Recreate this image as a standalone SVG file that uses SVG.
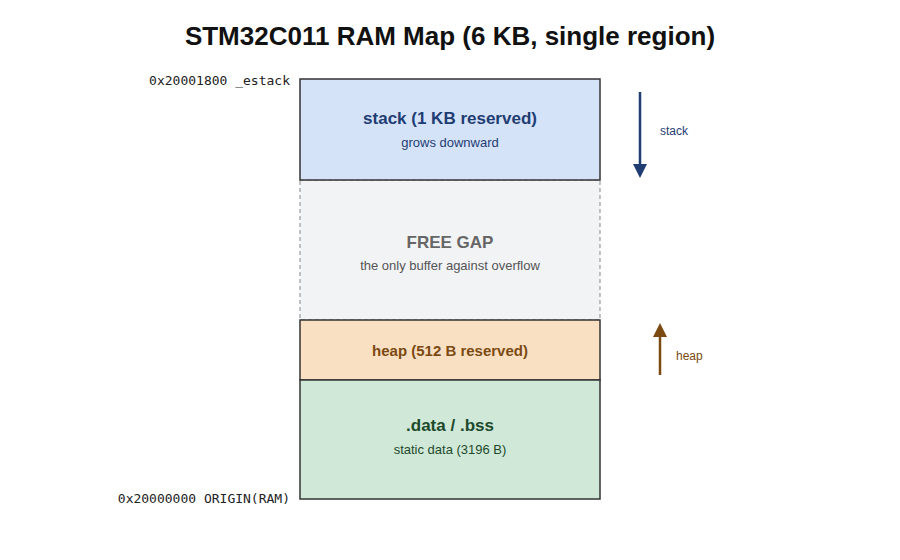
<svg xmlns="http://www.w3.org/2000/svg" width="900" height="560" viewBox="0 0 900 560">
<style>
text{font-family:"Liberation Sans",Arial,sans-serif;text-anchor:middle}
.t{font-size:17px;font-weight:bold}
.s{font-size:13px}
.a{font-family:"DejaVu Sans Mono","Liberation Mono",monospace;font-size:13px;text-anchor:end;fill:#222}
.l{font-size:12px;text-anchor:start}
</style>
<defs>
<marker id="mb" markerWidth="14" markerHeight="14" refX="2" refY="7" orient="auto" markerUnits="userSpaceOnUse" viewBox="0 0 14 14"><path d="M0,0L14,7L0,14z" fill="#1f3d73"/></marker>
<marker id="mh" markerWidth="14" markerHeight="14" refX="2" refY="7" orient="auto" markerUnits="userSpaceOnUse" viewBox="0 0 14 14"><path d="M0,0L14,7L0,14z" fill="#7a4a12"/></marker>
</defs>
<rect width="900" height="560" fill="#fff"/>
<text x="450" y="45" style="font-size:26px;font-weight:bold;fill:#111">STM32C011 RAM Map (6 KB, single region)</text>
<g id="free">
<rect x="300" y="180" width="300" height="140" fill="#f2f3f5" stroke="#888" stroke-dasharray="4,3"/>
<text class="t" x="450" y="248" fill="#666">FREE GAP</text>
<text class="s" x="450" y="270" fill="#555">the only buffer against overflow</text>
</g>
<g id="stack">
<rect x="300" y="79" width="300" height="101" fill="#d5e3f9" stroke="#333" stroke-width="1.5"/>
<text class="t" x="450" y="124" fill="#1f3d73">stack (1 KB reserved)</text>
<text class="s" x="450" y="147" fill="#1f3d73">grows downward</text>
</g>
<g id="heap">
<rect x="300" y="320" width="300" height="60" fill="#fae0c3" stroke="#333" stroke-width="1.5"/>
<text x="450" y="356" style="font-size:15px;font-weight:bold" fill="#7a4a12">heap (512 B reserved)</text>
</g>
<g id="data">
<rect x="300" y="380" width="300" height="119" fill="#d0e8d7" stroke="#333" stroke-width="1.5"/>
<text class="t" x="450" y="431" fill="#1e4a2c">.data / .bss</text>
<text class="s" x="450" y="454" fill="#1e4a2c">static data (3196 B)</text>
</g>
<g id="labels">
<text class="a" x="290" y="85">0x20001800 _estack</text>
<text class="a" x="290" y="503">0x20000000 ORIGIN(RAM)</text>
</g>
<g id="connectors">
<line x1="640" y1="92" x2="640" y2="166" stroke="#1f3d73" stroke-width="2.5" marker-end="url(#mb)"/>
<text class="l" x="660" y="135" fill="#1f3d73">stack</text>
<line x1="660" y1="375" x2="660" y2="335" stroke="#7a4a12" stroke-width="2.5" marker-end="url(#mh)"/>
<text class="l" x="676" y="360" fill="#7a4a12">heap</text>
</g>
</svg>
